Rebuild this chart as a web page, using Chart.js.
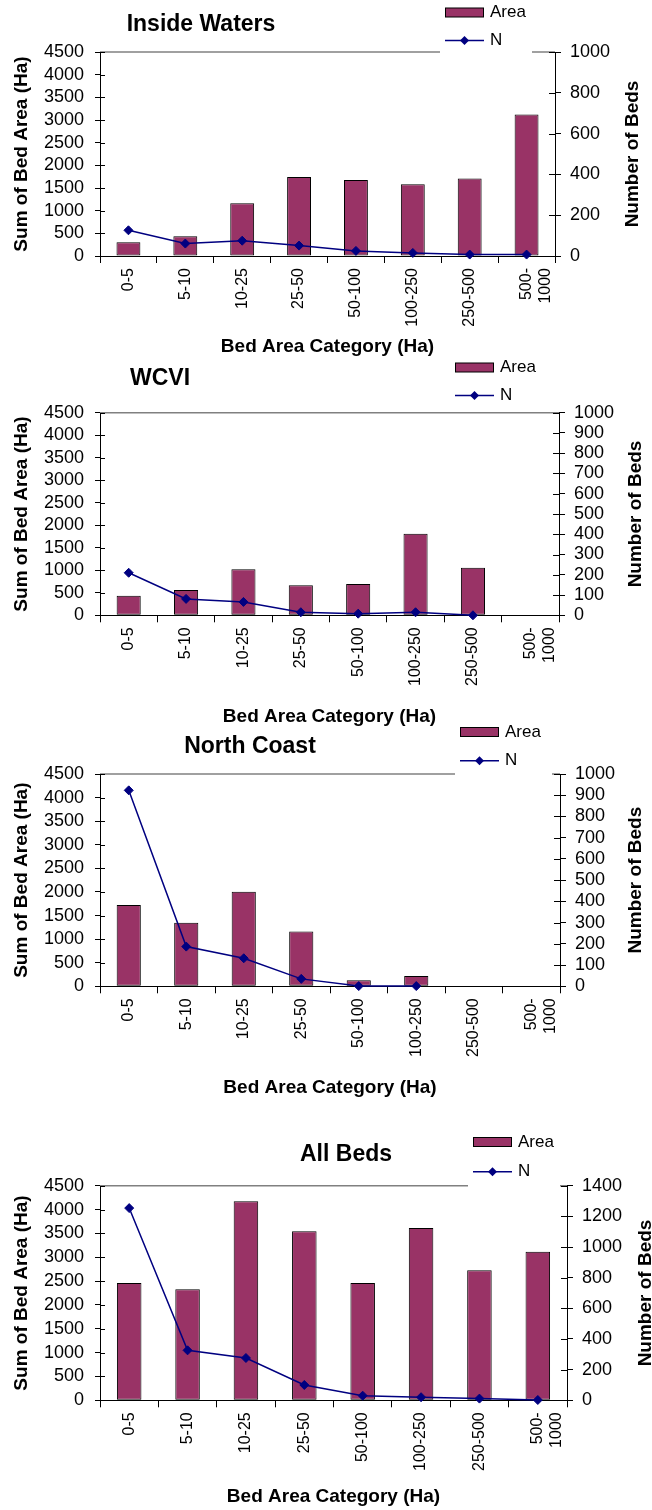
<!DOCTYPE html>
<html>
<head>
<meta charset="utf-8">
<script src="https://cdn.jsdelivr.net/npm/chart.js@4"></script>
<style>
  body { margin: 0; background: #fff; }
  #wrap { position: relative; width: 652px; height: 1510px; overflow: hidden; }
  canvas { position: absolute; left: 0; }
</style>
</head>
<body>
<div id="wrap">
  <canvas id="c1" width="652" height="360" style="top:0px"></canvas>
  <canvas id="c2" width="652" height="370" style="top:360px"></canvas>
  <canvas id="c3" width="652" height="375" style="top:725px"></canvas>
  <canvas id="c4" width="652" height="405" style="top:1105px"></canvas>
</div>
<script>
const categories = ['0-5', '5-10', '10-25', '25-50', '50-100', '100-250', '250-500', ['500-', '1000']];

const insideArea = [302, 434, 1164, 1745, 1679, 1583, 1709, 3123];
const insideN    = [126, 61, 75, 51, 25, 15, 7, 7];

const wcviArea = [437, 562, 1021, 666, 696, 1813, 1058, null];
const wcviN    = [210, 81, 66, 15, 8, 15, 0, null];

const northArea = [1724, 1349, 2006, 1159, 127, 219, null, null];
const northN    = [923, 187, 132, 35, 1, 1, null, null];

const allArea = [2460, 2327, 4172, 3543, 2460, 3613, 2725, 3116];
const allN    = [1254, 326, 276, 100, 30, 20, 11, 2];

const FONT = "'Liberation Sans', Arial, sans-serif";
Chart.defaults.font.family = FONT;
Chart.defaults.color = '#000';

const plain = v => String(v);

// titles, legend, plot border, right axis title, inner tick halves
const decor = {
  id: 'decor',
  beforeDatasetsDraw(chart) {
    const { ctx, chartArea: a } = chart;
    ctx.save();
    ctx.strokeStyle = '#808080';
    ctx.lineWidth = 1.5;
    ctx.beginPath();
    ctx.moveTo(a.left, a.top);
    ctx.lineTo(a.right, a.top);
    ctx.stroke();
    ctx.restore();
  },
  afterDraw(chart, args, o) {
    const { ctx, chartArea: a, scales } = chart;
    const top = o.cTop;
    ctx.save();

    // inner half of the crossing ticks
    ctx.strokeStyle = '#000';
    ctx.lineWidth = 1;
    scales.y.ticks.forEach(t => {
      const py = Math.round(scales.y.getPixelForValue(t.value)) + 0.5;
      ctx.beginPath(); ctx.moveTo(a.left, py); ctx.lineTo(a.left + 5, py); ctx.stroke();
    });
    scales.y1.ticks.forEach(t => {
      const py = Math.round(scales.y1.getPixelForValue(t.value)) + 0.5;
      ctx.beginPath(); ctx.moveTo(a.right - 6, py); ctx.lineTo(a.right, py); ctx.stroke();
    });

    // legend
    const lg = o.legend;
    const lx = lg.x, ly = lg.y - top, ly2 = ly + lg.gap;
    if (lg.cover) {
      ctx.fillStyle = '#fff';
      ctx.fillRect(lx - 5, ly - 12, lg.right - lx + 5, a.top - (ly - 12) + 2);
    }
    const bar = chart.data.datasets[1], line = chart.data.datasets[0];
    ctx.fillStyle = bar.backgroundColor;
    ctx.fillRect(lx, ly - 4.5, 39, 9);
    ctx.strokeStyle = '#000';
    ctx.strokeRect(lx + 0.5, ly - 4.5, 38, 9);
    ctx.strokeStyle = line.borderColor;
    ctx.lineWidth = 1.5;
    ctx.beginPath(); ctx.moveTo(lx, ly2); ctx.lineTo(lx + 39, ly2); ctx.stroke();
    ctx.fillStyle = line.borderColor;
    ctx.beginPath();
    const dx = lx + 19.5, r = 4.5;
    ctx.moveTo(dx, ly2 - r); ctx.lineTo(dx + r, ly2); ctx.lineTo(dx, ly2 + r); ctx.lineTo(dx - r, ly2);
    ctx.closePath(); ctx.fill();
    ctx.fillStyle = '#000';
    ctx.font = '17px ' + FONT;
    ctx.textBaseline = 'middle';
    ctx.textAlign = 'left';
    ctx.fillText(bar.label, lx + 45, ly);
    ctx.fillText(line.label, lx + 45, ly2);

    // chart title
    ctx.font = 'bold 23px ' + FONT;
    ctx.textAlign = 'center';
    ctx.fillText(o.title.text, o.title.x, o.title.y - top);

    // right axis title, reading upward
    ctx.font = 'bold 19px ' + FONT;
    ctx.translate(o.rTitleX, (a.top + a.bottom) / 2);
    ctx.rotate(-Math.PI / 2);
    ctx.fillText('Number of Beds', 0, 0);
    ctx.restore();
  }
};

function makeChart(id, L, area, n, nMax, nStep) {
  new Chart(document.getElementById(id), {
    type: 'bar',
    data: {
      labels: categories,
      datasets: [
        {
          type: 'line', label: 'N', data: n, yAxisID: 'y1', order: 0,
          borderColor: '#000080', backgroundColor: '#000080', borderWidth: 1.5,
          pointStyle: 'rectRot', pointRadius: 4.5, pointHoverRadius: 4.5,
          pointBackgroundColor: '#000080', pointBorderColor: '#000080', pointBorderWidth: 1,
          tension: 0, clip: false, spanGaps: false
        },
        {
          label: 'Area', data: area, yAxisID: 'y', order: 1,
          backgroundColor: '#993366', borderColor: '#000', borderWidth: 1, borderSkipped: false,
          barPercentage: 0.42, categoryPercentage: 1
        }
      ]
    },
    options: {
      responsive: false,
      animation: false,
      devicePixelRatio: 1,
      layout: { padding: { top: L.top - L.cTop, left: 0, right: 0, bottom: 0 } },
      plugins: {
        legend: { display: false },
        tooltip: { enabled: false },
        decor: { cTop: L.cTop, title: L.title, legend: L.legend, rTitleX: L.rTitleX }
      },
      scales: {
        x: {
          afterFit: s => { s.height = L.xH; },
          grid: { drawOnChartArea: false, color: '#000', tickLength: 7, offset: true },
          border: { color: '#000', width: 1 },
          ticks: { autoSkip: false, minRotation: 90, maxRotation: 90, padding: 5, font: { size: 16 } },
          title: { display: true, text: 'Bed Area Category (Ha)', font: { size: 19, weight: 'bold' }, padding: { top: 0, bottom: L.xPad } }
        },
        y: {
          position: 'left',
          min: 0, max: 4500,
          afterFit: s => { s.width = 100; },
          grid: { drawOnChartArea: false, color: '#000', tickLength: 5 },
          border: { color: '#000', width: 1 },
          ticks: { stepSize: 500, autoSkip: false, padding: 11, font: { size: 18 }, callback: plain },
          title: { display: true, text: 'Sum of Bed Area (Ha)', font: { size: 19, weight: 'bold' }, padding: { top: 10.6, bottom: 0 } }
        },
        y1: {
          position: 'right',
          min: 0, max: nMax,
          afterFit: s => { s.width = 652 - L.right; },
          grid: { drawOnChartArea: false, color: '#000', tickLength: 6 },
          border: { color: '#000', width: 1 },
          ticks: { stepSize: nStep, autoSkip: false, padding: 9, font: { size: 18 }, callback: plain }
        }
      }
    },
    plugins: [decor]
  });
}

makeChart('c1', {
  cTop: 0, top: 52, right: 555, xH: 104, xPad: 1.6, rTitleX: 633,
  title: { text: 'Inside Waters', x: 201, y: 25 },
  legend: { x: 445, y: 12.5, gap: 28, right: 532, cover: true }
}, insideArea, insideN, 1000, 200);

makeChart('c2', {
  cTop: 360, top: 412.7, right: 559, xH: 114.7, xPad: 1.6, rTitleX: 636,
  title: { text: 'WCVI', x: 160, y: 379 },
  legend: { x: 455, y: 367.5, gap: 28, right: 550, cover: false }
}, wcviArea, wcviN, 1000, 100);

makeChart('c3', {
  cTop: 725, top: 774, right: 560, xH: 113.7, xPad: 0.6, rTitleX: 636,
  title: { text: 'North Coast', x: 250, y: 747 },
  legend: { x: 460, y: 732, gap: 28.7, right: 552, cover: true }
}, northArea, northN, 1000, 100);

makeChart('c4', {
  cTop: 1105, top: 1185.7, right: 567, xH: 109.7, xPad: 1.6, rTitleX: 646,
  title: { text: 'All Beds', x: 346, y: 1155 },
  legend: { x: 473, y: 1142, gap: 29.7, right: 560, cover: true }
}, allArea, allN, 1400, 200);
</script>
</body>
</html>
